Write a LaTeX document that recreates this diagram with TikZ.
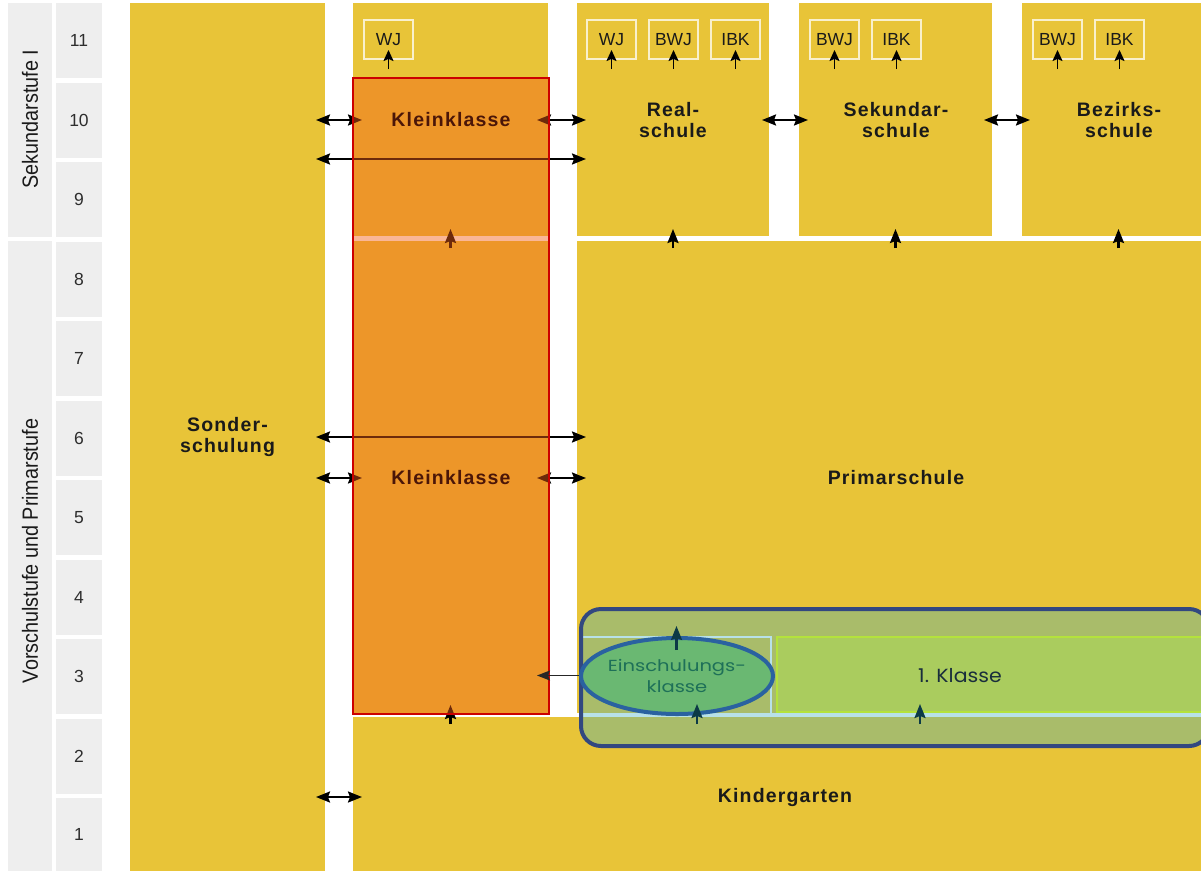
\documentclass[tikz,border=0pt]{standalone}
\usepackage{fontspec}
\setmainfont{Liberation Sans}
\newfontfamily\lblfont{Liberation Sans}[LetterSpace=6]
\newfontfamily\geo{Poppins}
\usetikzlibrary{arrows.meta,shapes.geometric}
\definecolor{ylw}{RGB}{232,196,56}
\definecolor{grayb}{RGB}{238,238,238}
\definecolor{orov}{RGB}{245,94,23}
\definecolor{redb}{RGB}{204,0,0}
\definecolor{tealov}{RGB}{63,176,193}
\definecolor{navyb}{RGB}{50,72,128}
\definecolor{ellf}{RGB}{106,184,114}
\definecolor{ellb}{RGB}{42,98,160}
\definecolor{klf}{RGB}{170,204,94}
\definecolor{lime}{RGB}{180,226,60}
\definecolor{txt}{RGB}{26,26,26}
\definecolor{numc}{RGB}{45,45,45}
\definecolor{egreen}{RGB}{30,112,88}
\definecolor{kltxt}{RGB}{25,45,60}
\definecolor{darkteal}{RGB}{12,58,70}
\definecolor{brownt}{RGB}{75,22,8}
\begin{document}
\begin{tikzpicture}[x=1pt,y=-1pt,
  blk/.style={rectangle, inner sep=0pt, outer sep=0pt, anchor=north west},
  gbox/.style={blk, fill=grayb},
  ybox/.style={blk, fill=ylw},
  num/.style={font=\fontsize{17.5}{17.5}\selectfont, text=numc},
  side/.style={rotate=90, font=\fontsize{22}{22}\selectfont, text=txt},
  lbl/.style={font=\lblfont\bfseries\fontsize{19.5}{21}\selectfont, text=txt, align=center},
  sbox/.style={blk, minimum width=49pt, minimum height=39pt, draw=white, draw opacity=0.75, line width=1.3pt, font=\fontsize{17.5}{17.5}\selectfont, text=txt},
  hd/.tip={Stealth[length=14pt,width=11pt,inset=2pt]},
  sh/.tip={Stealth[length=11pt,width=10pt,inset=2pt]},
  dbl/.style={hd-hd, line width=2.2pt, draw=black},
  sgl/.style={-hd, line width=2.2pt, draw=black},
  sup/.style={-sh, line width=1.6pt, draw=black}]
\useasboundingbox (0,0) rectangle (1201,871);
\fill[white] (0,0) rectangle (1201,871);
% grade column
\foreach \k/\t in {11/3,10/82.5,9/162,8/241.5,7/321,6/400.5,5/480,4/559.5,3/639,2/718.5}{
  \node[gbox, minimum width=46pt, minimum height=75pt] (g\k) at (56,\t) {};
  \node[num] (n\k) at (g\k.center) {\k};
}
\node[gbox, minimum width=46pt, minimum height=73pt] (g1) at (56,798) {};
\node[num] (n1) at (g1.center) {1};
\node[gbox, minimum width=44pt, minimum height=234pt] (sek) at (8,3) {};
\node[gbox, minimum width=44pt, minimum height=630pt] (vor) at (8,241) {};
\node[side] (sekt) at (30,119) {\scalebox{0.9}[1]{Sekundarstufe I}};
\node[side] (vort) at (30,551) {\scalebox{0.9}[1]{Vorschulstufe und Primarstufe}};
% yellow blocks
\node[ybox, minimum width=195pt, minimum height=868pt] (sonder) at (130,3) {};
\node[ybox, minimum width=195pt, minimum height=233pt] (kyt) at (353,3) {};
\node[ybox, minimum width=195pt, minimum height=473pt] (kyb) at (353,241) {};
\node[ybox, minimum width=192pt, minimum height=233pt] (real) at (577,3) {};
\node[ybox, minimum width=193pt, minimum height=233pt] (sekund) at (799,3) {};
\node[ybox, minimum width=193pt, minimum height=233pt] (bez) at (1022,3) {};
\node[ybox, minimum width=640pt, minimum height=472pt] (primar) at (577,241) {};
\node[ybox, minimum width=860pt, minimum height=154pt] (kinder) at (353,717) {};
% small boxes
\node[sbox] (wj0) at (364,20) {WJ};
\node[sbox] (wj1) at (587,20) {WJ};
\node[sbox] (bwj1) at (649,20) {BWJ};
\node[sbox] (ibk1) at (711,20) {IBK};
\node[sbox] (bwj2) at (810,20) {BWJ};
\node[sbox] (ibk2) at (872,20) {IBK};
\node[sbox] (bwj3) at (1033,20) {BWJ};
\node[sbox] (ibk3) at (1095,20) {IBK};
\foreach \b in {wj0,wj1,bwj1,ibk1,bwj2,ibk2,bwj3,ibk3}{
  \draw[sup] ([yshift=-10pt]\b.south) -- ([yshift=9pt]\b.south);
}
% labels
\node[lbl] (tsonder) at (sonder.center) {Sonder-\\schulung};
\coordinate (tkl1) at (451,120);
\coordinate (tkl2) at (451,478);
\node[lbl] (treal) at (673,120) {Real-\\schule};
\node[lbl] (tsek) at (896,120) {Sekundar-\\schule};
\node[lbl] (tbez) at (1119,120) {Bezirks-\\schule};
\node[lbl] (tprim) at (896,478) {Primarschule};
\node[lbl] (tkind) at (785,797) {Kindergarten};
\coordinate (y159) at (0,159);
\coordinate (y437) at (0,437);
% arrows
\draw[dbl] ([xshift=-9pt]sonder.east |- tkl1) -- ([xshift=9pt]kyt.west |- tkl1);
\draw[dbl] ([xshift=-11pt]kyt.east |- tkl1) -- ([xshift=9pt]real.west |- tkl1);
\draw[dbl] ([xshift=-7pt]real.east |- tkl1) -- ([xshift=9pt]sekund.west |- tkl1);
\draw[dbl] ([xshift=-8pt]sekund.east |- tkl1) -- ([xshift=8pt]bez.west |- tkl1);
\draw[dbl] ([xshift=-9pt]sonder.east |- y159) -- ([xshift=9pt]real.west |- y159);
\draw[dbl] ([xshift=-9pt]sonder.east |- y437) -- ([xshift=9pt]primar.west |- y437);
\draw[dbl] ([xshift=-9pt]sonder.east |- tkl2) -- ([xshift=9pt]kyb.west |- tkl2);
\draw[dbl] ([xshift=-11pt]kyb.east |- tkl2) -- ([xshift=9pt]primar.west |- tkl2);
\draw[dbl] ([xshift=-9pt]sonder.east |- tkind) -- ([xshift=9pt]kinder.west |- tkind);
\draw[sgl] ([yshift=-7pt]kyb.north) -- ([yshift=12pt]kyb.north);
\draw[sgl] ([yshift=-12pt]real.south) -- ([yshift=7pt]real.south);
\draw[sgl] ([yshift=-12pt]sekund.south) -- ([yshift=7pt]sekund.south);
\draw[sgl] ([yshift=-12pt]bez.south) -- ([yshift=7pt]bez.south);
\draw[sgl] ([yshift=-10pt]kyb.south) -- ([yshift=9pt]kyb.south);
% Kleinklasse overlay
\node[blk, minimum width=196pt, minimum height=636pt, fill=orov, fill opacity=0.45, draw=redb, line width=2pt] (kk) at (353,78) {};
\node[lbl, text=brownt] (kl1) at (tkl1) {Kleinklasse};
\node[lbl, text=brownt] (kl2) at (tkl2) {Kleinklasse};
% Einschulung area
\node[blk, minimum width=189pt, minimum height=77pt, draw=white, line width=2pt] (einr) at (582,637) {};
\draw[-{Stealth[length=13pt,width=10pt,inset=2pt]}, line width=1.4pt, draw=black!85] ([xshift=4pt]einr.west) -- ([xshift=-11pt]kyb.east |- einr.west);
\node[rectangle, rounded corners=20pt, inner sep=0pt, anchor=north west, minimum width=628pt, minimum height=137pt, fill=tealov, fill opacity=0.37, draw=navyb, line width=4pt] (zone) at (579,607) {};
\node[blk, minimum width=434pt, minimum height=75pt, fill=klf, draw=lime, line width=2pt] (k1) at (777,637) {};
\node[font=\geo\fontsize{19}{19}\selectfont, text=kltxt] (k1t) at (960,676) {\scalebox{1.08}[1]{1. Klasse}};
\node[ellipse, inner sep=0pt, minimum width=192pt, minimum height=76pt, fill=ellf, draw=ellb, line width=4pt] (ell) at (677,676) {};
\node[font=\geo\fontsize{16}{21}\selectfont, text=egreen, align=center] (ellt) at (ell.center) {\scalebox{1.22}[1]{Einschulungs-}\\\scalebox{1.22}[1]{klasse}};
\coordinate (u2) at (697,724);
\coordinate (u3) at (920,724);
\draw[sgl, draw=darkteal] ([yshift=-13pt]einr.north) -- ([yshift=11pt]einr.north);
\draw[sgl, draw=darkteal] (u2) -- ([yshift=20pt]u2);
\draw[sgl, draw=darkteal] (u3) -- ([yshift=20pt]u3);
\end{tikzpicture}
\end{document}
